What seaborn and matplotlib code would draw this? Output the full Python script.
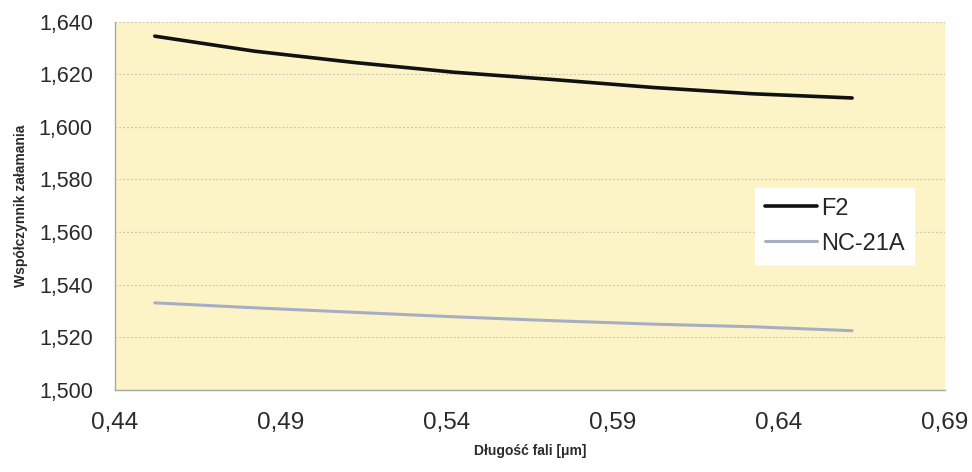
import pandas as pd
import matplotlib.pyplot as plt
import seaborn as sns
from matplotlib.ticker import FuncFormatter, FixedLocator, MultipleLocator

# dane
wavelength = [0.452, 0.482, 0.512, 0.542, 0.572, 0.602, 0.632, 0.662]
n_f2 = [1.6345, 1.6288, 1.6245, 1.6208, 1.6180, 1.6150, 1.6126, 1.6110]
n_nc21a = [1.5331, 1.5312, 1.5295, 1.5278, 1.5263, 1.5250, 1.5240, 1.5225]
series = ["F2", "NC-21A"]
x_ticks = [0.44, 0.49, 0.54, 0.59, 0.64, 0.69]

df = pd.DataFrame({
    "wl": wavelength * 2,
    "n": n_f2 + n_nc21a,
    "glass": [series[0]] * len(wavelength) + [series[1]] * len(wavelength),
})

sns.set_style("white")
plt.rcParams["font.family"] = ["Liberation Sans", "DejaVu Sans"]

fig = plt.figure(figsize=(9.72, 4.72), dpi=100)
ax = fig.add_axes([0.1183, 0.174, 0.854, 0.780])
ax.set_facecolor("#FCF4C6")

sns.lineplot(data=df, x="wl", y="n", hue="glass",
             palette={"F2": "#111111", "NC-21A": "#A7AEC4"},
             ax=ax, legend=False)
ax.lines[0].set_linewidth(2.6)
ax.lines[1].set_linewidth(2.2)

ax.set_xlim(0.44, 0.69)
ax.set_ylim(1.500, 1.640)
ax.xaxis.set_major_locator(FixedLocator(x_ticks))
ax.yaxis.set_major_locator(MultipleLocator(0.02))
ax.xaxis.set_major_formatter(FuncFormatter(lambda v, p: f"{v:.2f}".replace(".", ",")))
ax.yaxis.set_major_formatter(FuncFormatter(lambda v, p: f"{v:,.3f}".replace(".", ",")))

ax.grid(axis="y", color="#C8C4B0", linestyle=(0, (1.5, 2)), linewidth=0.8)
for s in ["top", "right"]:
    ax.spines[s].set_visible(False)
for s in ["left", "bottom"]:
    ax.spines[s].set_color("#A8A8A8")
    ax.spines[s].set_linewidth(1.0)

ax.tick_params(axis="y", direction="out", length=8, color="#A8A8A8",
               labelsize=15.5, labelcolor="#2A2A2A", pad=8)
ax.tick_params(axis="x", direction="out", length=5, color="#A8A8A8",
               labelsize=17.5, labelcolor="#2A2A2A", pad=11)

ax.set_xlabel("Długość fali [μm]", fontsize=10, fontweight="bold", color="#2A2A2A", labelpad=7)
ax.set_ylabel("Współczynnik załamania", fontsize=10, fontweight="bold", color="#2A2A2A", labelpad=8)

handles = [plt.Line2D([], [], color="#111111", lw=2.6),
           plt.Line2D([], [], color="#A7AEC4", lw=2.2)]
leg = ax.legend(handles, series, loc="upper left", bbox_to_anchor=(0.757, 0.58),
                frameon=True, fancybox=False, fontsize=17, handlelength=2.2,
                handletextpad=0.2, labelspacing=0.55, borderpad=0.4)
leg.get_frame().set_facecolor("white")
leg.get_frame().set_edgecolor("white")
leg.get_frame().set_alpha(1)

fig.savefig("out.png", dpi=100, facecolor="white")
